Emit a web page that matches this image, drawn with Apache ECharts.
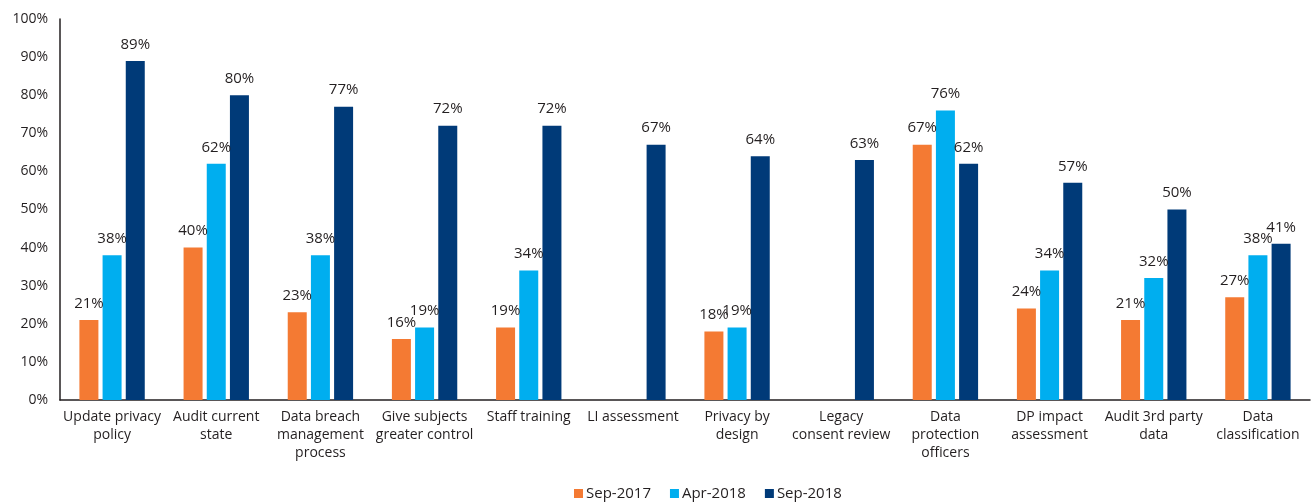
<!DOCTYPE html>
<html>
<head>
<meta charset="utf-8">
<script src="https://cdn.jsdelivr.net/npm/echarts@6/dist/echarts.min.js"></script>
<style>
  html, body { margin: 0; padding: 0; background: #fff; }
  #chart { width: 1313px; height: 502px; }
</style>
</head>
<body>
<div id="chart"></div>
<script>
// GDPR readiness activities, share of respondents (%)
const categories = [
  'Update privacy\npolicy',
  'Audit current\nstate',
  'Data breach\nmanagement\nprocess',
  'Give subjects\ngreater control',
  'Staff training',
  'LI assessment',
  'Privacy by\ndesign',
  'Legacy\nconsent review',
  'Data\nprotection\nofficers',
  'DP impact\nassessment',
  'Audit 3rd party\ndata',
  'Data\nclassification'
];
const sep2017 = [21, 40, 23, 16, 19, null, 18, null, 67, 24, 21, 27];
const apr2018 = [38, 62, 38, 19, 34, null, 19, null, 76, 34, 32, 38];
const sep2018 = [89, 80, 77, 72, 72, 67, 64, 63, 62, 57, 50, 41];
const yTicks = [0, 10, 20, 30, 40, 50, 60, 70, 80, 90, 100];

const seriesDefs = [
  { name: 'Sep-2017', data: sep2017, color: '#F47A33' },
  { name: 'Apr-2018', data: apr2018, color: '#00AEEF' },
  { name: 'Sep-2018', data: sep2018, color: '#003A78' }
];

const fontFamily = '"Open Sans", "Noto Sans", sans-serif';
const textColor = '#231F20';

const chart = echarts.init(document.getElementById('chart'));
chart.setOption({
  animation: false,
  textStyle: { fontFamily: fontFamily },
  grid: { left: 60, right: 3, top: 19, bottom: 102, containLabel: false },
  legend: {
    top: 481,
    left: 569,
    itemWidth: 9,
    itemHeight: 9,
    itemGap: 19,
    icon: 'rect',
    textStyle: { color: textColor, fontSize: 15, fontFamily: fontFamily, padding: [0, 0, 0, -2] },
    data: seriesDefs.map(s => s.name)
  },
  xAxis: {
    type: 'category',
    data: categories,
    axisLine: { show: true, lineStyle: { color: '#231F20', width: 1.5 } },
    axisTick: { show: false },
    axisLabel: {
      interval: 0,
      color: textColor,
      fontSize: 14,
      lineHeight: 18,
      margin: 8,
      fontFamily: fontFamily
    }
  },
  yAxis: {
    type: 'value',
    min: yTicks[0],
    max: yTicks[yTicks.length - 1],
    interval: 10,
    splitLine: { show: false },
    axisLine: { show: true, lineStyle: { color: '#231F20', width: 1.5 } },
    axisTick: { show: false },
    axisLabel: {
      color: textColor,
      fontSize: 14,
      margin: 12,
      fontFamily: fontFamily,
      formatter: v => v + '%'
    }
  },
  series: seriesDefs.map(s => ({
    name: s.name,
    type: 'bar',
    data: s.data,
    barWidth: 19,
    barGap: '22%',
    itemStyle: { color: s.color },
    label: {
      show: true,
      position: 'top',
      distance: 9,
      color: textColor,
      fontSize: 15,
      fontFamily: fontFamily,
      formatter: p => (p.value == null ? '' : p.value + '%')
    }
  }))
});
</script>
</body>
</html>
